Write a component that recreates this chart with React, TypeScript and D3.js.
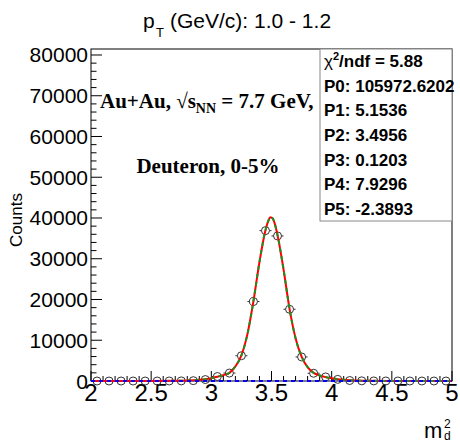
import React from "react";
import * as d3 from "d3";

// ---- data ----
const binCenters = [
  2.05, 2.15, 2.25, 2.35, 2.45, 2.55, 2.65, 2.75, 2.85, 2.95,
  3.05, 3.15, 3.25, 3.35, 3.45, 3.55, 3.65, 3.75, 3.85, 3.95,
  4.05, 4.15, 4.25, 4.35, 4.45, 4.55, 4.65, 4.75, 4.85, 4.95,
];
const counts = [
  0, 0, 0, 0, 0, 0, 5, 20, 80, 350,
  1100, 1950, 6200, 19500, 36900, 35600, 17600, 5900, 1900, 1000,
  400, 120, 40, 20, 10, 5, 0, 0, 0, 0,
];
// total fit curve
const fitX = [
  2.0, 2.5, 2.7, 2.8, 2.9, 2.95, 3.0, 3.05, 3.1, 3.15, 3.2, 3.25, 3.3, 3.35,
  3.4, 3.45, 3.475, 3.49, 3.51, 3.525, 3.55, 3.6, 3.65, 3.7, 3.75, 3.8, 3.85,
  3.9, 3.95, 4.0, 4.05, 4.1, 4.2, 4.3, 4.5, 5.0,
];
const fitY = [
  0, 10, 50, 120, 300, 450, 700, 1050, 1450, 2000, 3600, 6300, 11500, 19600,
  29200, 37000, 39400, 40200, 39900, 38800, 35800, 27400, 17700, 10500, 6000,
  3400, 2000, 1350, 950, 680, 450, 300, 120, 50, 10, 0,
];
const bgX = [2.0, 5.0];
const bgY = [0, 0];

const xTicks = [2, 2.5, 3, 3.5, 4, 4.5, 5];
const xTickLabels = ["2", "2.5", "3", "3.5", "4", "4.5", "5"];
const yTicks = [0, 10000, 20000, 30000, 40000, 50000, 60000, 70000, 80000];
const yTickLabels = ["0", "10000", "20000", "30000", "40000", "50000", "60000", "70000", "80000"];

const statsNames = ["P0", "P1", "P2", "P3", "P4", "P5"];
const statsValues = ["105972.6202", "5.1536", "3.4956", "0.1203", "7.9296", "-2.3893"];
const chi2ndf = "5.88";

const SANS = "'Liberation Sans', Arial, Helvetica, sans-serif";
const SERIF = "'Liberation Serif', 'Times New Roman', serif";

export default function App() {
  const W = 460;
  const H = 443;
  const L = 91, R = 452, T = 49, B = 381;
  const x = d3.scaleLinear().domain([2, 5]).range([L, R]);
  const y = d3.scaleLinear().domain([0, 81470]).range([B, T]);

  const line = d3
    .line<number>()
    .x((_, i) => x(fitX[i]))
    .y((d) => y(d))
    .curve(d3.curveMonotoneX);
  const fitPath = line(fitY) || "";
  const bgLine = d3
    .line<number>()
    .x((_, i) => x(bgX[i]))
    .y((d) => y(d));
  const bgPath = bgLine(bgY) || "";

  const xMinor = d3.range(0, 31).map((i) => 2 + i * 0.1);
  const yMinor = d3.range(0, 41).map((i) => i * 2000);

  const r = 4;
  const halfBin = 0.05;

  const rowH = 172 / 7;
  const boxX = 320, boxY = 49, boxW = 132, boxH = 172;

  return (
    <svg
      width={W}
      height={H}
      style={{ position: "absolute", left: 0, top: 0, background: "#fff" }}
      fontFamily={SANS}
    >
      <rect x={0} y={0} width={W} height={H} fill="#fff" />
      {/* Title */}
      <text x={143} y={28} fontSize={21} fill="#000">p</text>
      <text x={156} y={37} fontSize={13} fill="#000">T</text>
      <text x={170} y={28} fontSize={21} fill="#000">(GeV/c): 1.0 - 1.2</text>

      {/* frame */}
      <rect x={L} y={T} width={R - L} height={B - T} fill="none" stroke="#000" strokeWidth={1} />

      {/* x ticks */}
      {xMinor.map((v, i) => {
        const major = i % 5 === 0;
        return (
          <line key={"xm" + i} x1={x(v)} x2={x(v)} y1={B} y2={B - (major ? 10 : 5)} stroke="#000" strokeWidth={1} />
        );
      })}
      {xTicks.map((v, i) => (
        <text key={"xl" + i} x={x(v)} y={401} fontSize={24} textAnchor="middle" fill="#000">
          {xTickLabels[i]}
        </text>
      ))}
      {/* y ticks */}
      {yMinor.map((v, i) => {
        const major = i % 5 === 0;
        return (
          <line key={"ym" + i} x1={L} x2={L + (major ? 11 : 5.5)} y1={y(v)} y2={y(v)} stroke="#000" strokeWidth={1} />
        );
      })}
      {yTicks.map((v, i) => (
        <text key={"yl" + i} x={88} y={y(v) + 7.5} fontSize={21} textAnchor="end" fill="#000">
          {yTickLabels[i]}
        </text>
      ))}

      {/* axis titles */}
      <text transform="translate(22,220) rotate(-90)" fontSize={17} textAnchor="middle" fill="#000">
        Counts
      </text>
      <text x={424} y={438} fontSize={22} fill="#000">m</text>
      <text x={444} y={428} fontSize={12} fill="#000">2</text>
      <text x={444} y={440} fontSize={12} fill="#000">d</text>

      {/* data points */}
      {binCenters.map((c, i) => {
        const cx = x(c);
        const cy = y(counts[i]);
        const hx = x(c + halfBin) - cx;
        return (
          <g key={"p" + i} stroke="#333" strokeWidth={1} fill="none">
            <line x1={cx - hx} x2={cx - r} y1={cy} y2={cy} />
            <line x1={cx + r} x2={cx + hx} y1={cy} y2={cy} />
            <circle cx={cx} cy={cy} r={r} />
          </g>
        );
      })}

      {/* fit curves */}
      <path d={fitPath} fill="none" stroke="#ff0000" strokeWidth={2} />
      <path d={fitPath} fill="none" stroke="#1f8f1f" strokeWidth={2} strokeDasharray="4,4" />
      <path d={bgPath} fill="none" stroke="#0000ff" strokeWidth={2} strokeDasharray="4,4" />

      {/* annotation */}
      <text x={100} y={108} fontFamily={SERIF} fontWeight="bold" fontSize={21} fill="#000">
        Au+Au, √s
        <tspan fontSize={14} dy={5}>NN</tspan>
        <tspan dy={-5}> = 7.7 GeV,</tspan>
      </text>
      <text x={208} y={173} fontFamily={SERIF} fontWeight="bold" fontSize={21} textAnchor="middle" fill="#000">
        Deuteron, 0-5%
      </text>

      {/* stats box */}
      <rect x={boxX} y={boxY} width={boxW} height={boxH} fill="#fff" stroke="#888" strokeWidth={1} />
      <text x={boxX + 4} y={boxY + rowH * 0.5 + 6} fontSize={17} fontWeight="bold" fill="#000">
        <tspan fontWeight="normal">χ</tspan>
        <tspan fontSize={11} dy={-7}>2</tspan>
        <tspan dy={7}>/ndf = {chi2ndf}</tspan>
      </text>
      {statsNames.map((n, i) => (
        <text key={"s" + i} x={boxX + 4} y={boxY + rowH * (i + 1.5) + 6} fontSize={17} fontWeight="bold" fill="#000">
          {n}: {statsValues[i]}
        </text>
      ))}
    </svg>
  );
}
